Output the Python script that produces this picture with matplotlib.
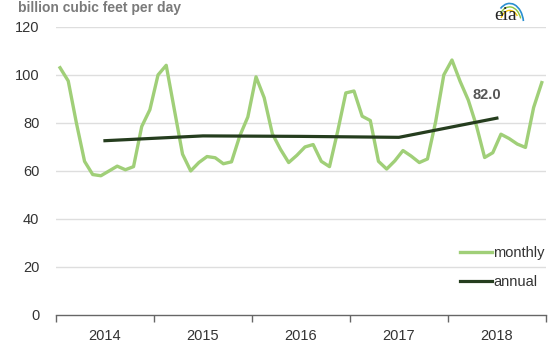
import numpy as np
import matplotlib.pyplot as plt
from matplotlib.patches import Arc

# -------------------------- Data --------------------------

years = ["2014", "2015", "2016", "2017", "2018"]

# monthly values, Jan 2014 .. Dec 2018 (billion cubic feet per day)
monthly_2014 = [103.0, 97.5, 80.0, 64.0, 58.5, 58.0, 60.0, 62.0, 60.5, 61.8, 78.5, 85.5]
monthly_2015 = [100.0, 104.0, 85.5, 67.0, 60.0, 63.5, 66.0, 65.5, 63.0, 63.8, 74.5, 82.5]
monthly_2016 = [99.2, 90.5, 75.5, 69.0, 63.5, 66.5, 70.0, 71.0, 64.0, 61.8, 76.5, 92.5]
monthly_2017 = [93.3, 82.8, 81.0, 64.0, 60.8, 64.2, 68.5, 66.2, 63.5, 65.0, 80.5, 100.0]
monthly_2018 = [106.2, 97.3, 89.5, 78.8, 65.6, 67.6, 75.3, 73.5, 71.2, 69.8, 86.4, 96.8]
monthly = monthly_2014 + monthly_2015 + monthly_2016 + monthly_2017 + monthly_2018

annual = [72.6, 74.6, 74.4, 74.0, 82.0]

# -------------------------- Figure --------------------------

plt.rcParams['font.family'] = ['Liberation Sans', 'DejaVu Sans']

light_green = "#a0cf78"
dark_green = "#253d1e"
grid_col = "#dedede"
text_col = "#333333"

fig = plt.figure(figsize=(5.57, 3.45), dpi=100)
ax = fig.add_axes([0.1005, 0.087, 0.8795, 0.835])

month_idx = np.arange(len(monthly))
year_mid = np.arange(len(annual)) * 12 + 5.5

ax.plot(month_idx, monthly, color=light_green, lw=2.4, solid_joinstyle='round',
        label="monthly", zorder=3)
ax.plot(year_mid, annual, color=dark_green, lw=2.3, label="annual", zorder=4)

ax.annotate(f"{annual[-1]:.1f}", xy=(year_mid[-1], annual[-1]), xytext=(-10, 23),
            textcoords='offset pixels', ha='center', va='center',
            fontsize=10.5, fontweight='bold', color="#555555")

ax.set_xlim(-0.5, len(monthly) - 0.5)
ax.set_ylim(0, 120)

ax.set_yticks(np.arange(0, 121, 20))
for y in np.arange(20, 121, 20):
    ax.axhline(y, color=grid_col, lw=1.0, zorder=1)

ax.set_xticks(np.arange(0, len(monthly) + 1, 12) - 0.5)
ax.set_xticklabels([])
ax.set_xticks(year_mid, minor=True)
ax.set_xticklabels(years, minor=True)

ax.tick_params(axis='y', length=0, pad=12, labelsize=10.5, labelcolor=text_col)
ax.tick_params(axis='x', which='major', length=5, width=1, color="#666666", direction='out')
ax.tick_params(axis='x', which='minor', length=0, pad=10, labelsize=10.5, labelcolor=text_col)

for s in ['top', 'right', 'left']:
    ax.spines[s].set_visible(False)
ax.spines['bottom'].set_color("#666666")
ax.spines['bottom'].set_linewidth(1.0)

leg = ax.legend(loc='lower right', bbox_to_anchor=(1.025, 0.045), frameon=False,
                fontsize=10.5, handlelength=2.2, handletextpad=0.1, labelspacing=1.0)
for t in leg.get_texts():
    t.set_color(text_col)

# unit label
fig.text(0.032, 0.977, "billion cubic feet per day", fontsize=10, fontweight='bold',
         color="#7a7a7a", ha='left', va='center')

# eia logo
fig.text(0.907, 0.955, "eia", fontsize=14, family='Liberation Serif', color="#222222",
         ha='center', va='center')
fig.patches.append(Arc((0.915, 0.93), 0.05, 0.12, theta1=20, theta2=110,
                       transform=fig.transFigure, color="#2a8fd0", lw=1.2))
fig.patches.append(Arc((0.915, 0.93), 0.042, 0.10, theta1=40, theta2=120,
                       transform=fig.transFigure, color="#8dc63f", lw=1.0))
fig.patches.append(Arc((0.915, 0.93), 0.034, 0.08, theta1=60, theta2=130,
                       transform=fig.transFigure, color="#f7c600", lw=1.0))

fig.savefig("out.png", dpi=100)
